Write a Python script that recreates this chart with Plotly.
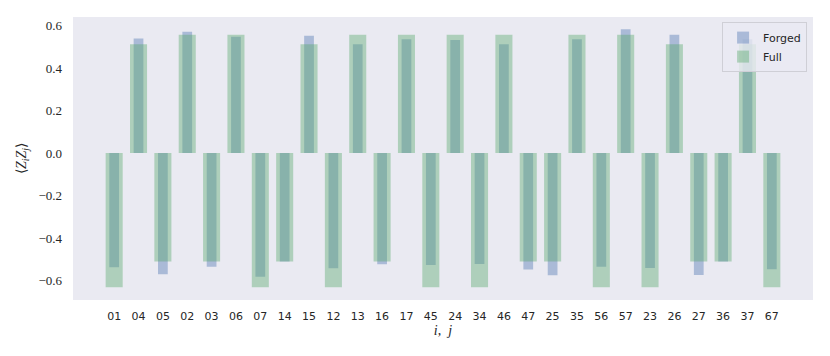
import plotly.graph_objects as go

# qubit pairs along the x axis
pairs = ["01", "04", "05", "02", "03", "06", "07", "14", "15", "12", "13", "16", "17", "45",
         "24", "34", "46", "47", "25", "35", "56", "57", "23", "26", "27", "36", "37", "67"]

# <Z_i Z_j> from the forged circuit
forged = [-0.538, 0.539, -0.571, 0.570, -0.535, 0.547, -0.582, -0.511, 0.552, -0.543,
          0.512, -0.524, 0.535, -0.527, 0.532, -0.522, 0.512, -0.548, -0.576, 0.535,
          -0.535, 0.582, -0.541, 0.557, -0.574, -0.511, 0.535, -0.547]

# <Z_i Z_j> from the full circuit
full = [-0.632, 0.512, -0.511, 0.557, -0.511, 0.557, -0.632, -0.511, 0.512, -0.632,
        0.557, -0.511, 0.557, -0.632, 0.557, -0.632, 0.557, -0.511, -0.511, 0.557,
        -0.632, 0.557, -0.632, 0.512, -0.511, -0.511, 0.512, -0.632]

ytick_vals = [-0.6, -0.4, -0.2, 0.0, 0.2, 0.4, 0.6]
ytick_text = ["\u22120.6", "\u22120.4", "\u22120.2", "0.0", "0.2", "0.4", "0.6"]

blue = "rgba(76,114,176,0.4)"
green = "rgba(85,168,104,0.4)"

xs = list(range(len(pairs)))

fig = go.Figure()
fig.add_trace(go.Bar(x=xs, y=forged, width=0.4, name="Forged",
                     marker=dict(color=blue, line=dict(width=0))))
fig.add_trace(go.Bar(x=xs, y=full, width=0.7, name="Full",
                     marker=dict(color=green, line=dict(width=0))))

# page body has an 8px default margin, so the figure is 8px smaller than the window
fig.update_layout(
    width=822, height=348,
    margin=dict(l=65, r=17, t=9, b=56),
    barmode="overlay",
    plot_bgcolor="#EAEAF2",
    paper_bgcolor="white",
    font=dict(family="DejaVu Sans", size=11, color="#262626"),
    showlegend=True,
    legend=dict(x=0.992, y=0.982, xanchor="right", yanchor="top",
                bgcolor="rgba(234,234,242,0.8)", bordercolor="#CFCFD6", borderwidth=1,
                font=dict(family="DejaVu Sans", size=11, color="#262626"),
                tracegroupgap=2),
)
fig.update_xaxes(
    tickmode="array", tickvals=xs, ticktext=pairs,
    range=[-1.69, 28.69], showgrid=False, zeroline=False,
    ticks="", ticklabelstandoff=8, automargin=False,
    title=dict(text="<i>i</i>,  <i>j</i>", font=dict(family="Liberation Serif", size=14),
               standoff=0),
)
fig.update_yaxes(
    tickmode="array", tickvals=ytick_vals, ticktext=ytick_text,
    range=[-0.692, 0.64], showgrid=False, zeroline=False,
    ticks="", ticklabelstandoff=10, automargin=False,
    tickfont=dict(family="Liberation Serif", size=13, color="#262626"),
    title=dict(text="\u27e8<i>Z<sub>i</sub>Z<sub>j</sub></i>\u27e9",
               font=dict(family="Liberation Serif", size=14), standoff=8),
)

fig.write_html("out.html")
